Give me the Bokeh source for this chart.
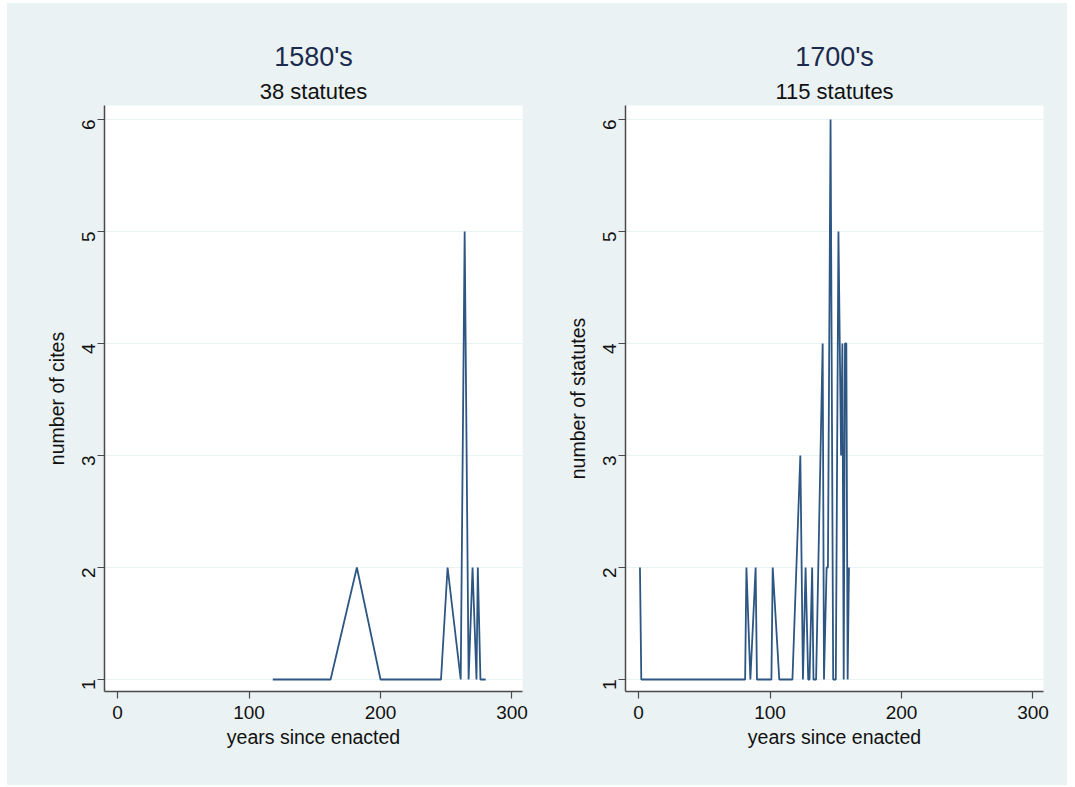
import math
from bokeh.plotting import figure
from bokeh.models import Range1d, FixedTicker, Title
from bokeh.layouts import row
from bokeh.embed import file_html
from bokeh.resources import INLINE

# ---- data ----
years_1580 = [118, 121, 125, 131, 137, 143, 150, 156, 162, 182, 200, 206, 212, 218,
              224, 228, 230, 236, 241, 246, 251, 261, 264, 267, 270, 273, 274, 276,
              278, 280]
cites_1580 = [1, 1, 1, 1, 1, 1, 1, 1, 1, 2, 1, 1, 1, 1,
              1, 1, 1, 1, 1, 1, 2, 1, 5, 1, 2, 1, 2, 1,
              1, 1]

years_1700 = [1, 2, 4, 5, 7, 9, 11, 12, 14, 16, 18, 20, 21, 23, 25, 27, 29, 30, 32,
              34, 36, 38, 40, 41, 43, 45, 47, 49, 50, 52, 54, 56, 58, 60, 61, 63,
              65, 67, 69, 70, 72, 74, 76, 78, 79, 81, 82, 85, 89, 90, 94, 98, 101,
              102, 107, 110, 114, 117, 123, 125, 127, 129, 130, 132, 133, 135, 140,
              141, 143, 144, 146, 148, 150, 152, 154, 155, 156, 157, 158, 159, 160]
statutes_1700 = [2, 1, 1, 1, 1, 1, 1, 1, 1, 1, 1, 1, 1, 1, 1, 1, 1, 1, 1,
                 1, 1, 1, 1, 1, 1, 1, 1, 1, 1, 1, 1, 1, 1, 1, 1, 1,
                 1, 1, 1, 1, 1, 1, 1, 1, 1, 1, 2, 1, 2, 1, 1, 1, 1,
                 2, 1, 1, 1, 1, 3, 1, 2, 1, 1, 2, 1, 1, 4,
                 1, 2, 2, 6, 1, 1, 5, 3, 4, 1, 4, 4, 1, 2]

x_ticks = [0, 100, 200, 300]
y_ticks = [1, 2, 3, 4, 5, 6]

titles = ["1580's", "1700's"]
subtitles = ["38 statutes", "115 statutes"]
y_titles = ["number of cites", "number of statutes"]
x_title = "years since enacted"

FONT = "Liberation Sans"
BG = "#eaf2f3"
LINE = "#2d5683"
AXIS = "#4a4a4a"


def make_panel(xs, ys, title, subtitle, ylabel, width, bl, br):
    p = figure(width=width, height=782, output_backend="svg", toolbar_location=None,
               x_range=Range1d(-10, 308), y_range=Range1d(0.893, 6.125),
               min_border_left=bl, min_border_right=br,
               min_border_top=102, min_border_bottom=94,
               background_fill_color="white", border_fill_color=BG,
               outline_line_color=None)
    p.line(xs, ys, line_color=LINE, line_width=1.8)

    p.xgrid.visible = False
    p.ygrid.ticker = FixedTicker(ticks=y_ticks)
    p.ygrid.grid_line_color = BG
    p.ygrid.grid_line_width = 1.2

    for ax in (p.xaxis[0], p.yaxis[0]):
        ax.axis_line_color = AXIS
        ax.axis_line_width = 1.5
        ax.major_tick_line_color = AXIS
        ax.major_tick_line_width = 1.2
        ax.major_tick_out = 7
        ax.major_tick_in = 0
        ax.minor_tick_line_color = None
        ax.major_label_text_font = FONT
        ax.major_label_text_font_size = "19px"
        ax.major_label_text_color = "#111111"
        ax.axis_label_text_font = FONT
        ax.axis_label_text_font_size = "19.5px"
        ax.axis_label_text_font_style = "normal"
        ax.axis_label_text_color = "#111111"

    p.xaxis.ticker = FixedTicker(ticks=x_ticks)
    p.xaxis.axis_label = x_title
    p.xaxis.major_label_standoff = 7
    p.xaxis.axis_label_standoff = 4

    p.yaxis.ticker = FixedTicker(ticks=y_ticks)
    p.yaxis.axis_label = ylabel
    p.yaxis.major_label_orientation = math.pi / 2
    p.yaxis.major_label_standoff = 9
    p.yaxis.axis_label_standoff = 5

    p.add_layout(Title(text=subtitle, align="center", text_font=FONT,
                       text_font_size="22px", text_font_style="normal",
                       text_color="#111111", standoff=4), "above")
    p.add_layout(Title(text=title, align="center", text_font=FONT,
                       text_font_size="27px", text_font_style="normal",
                       text_color="#1c2a4f", standoff=5), "above")
    return p


p1 = make_panel(years_1580, cites_1580, titles[0], subtitles[0], y_titles[0], 531, 97, 16)
p2 = make_panel(years_1700, statutes_1700, titles[1], subtitles[1], y_titles[1], 529, 87, 24)

layout = row(p1, p2, spacing=0, margin=(3, 0, 0, 7), styles={"background-color": BG})
open("out.html", "w").write(file_html(layout, INLINE))
